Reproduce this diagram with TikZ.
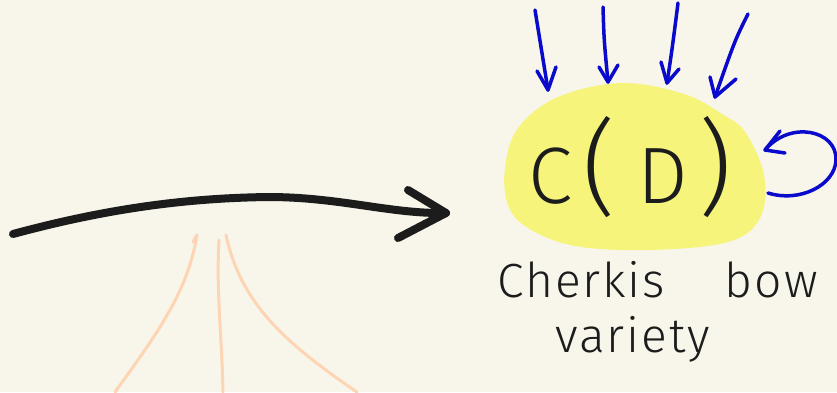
\documentclass[tikz,border=0pt]{standalone}
\usepackage{fontspec}
\newfontfamily\hand[LetterSpace=4]{Fira Sans Light}
\definecolor{paper}{HTML}{F8F6EA}
\definecolor{blob}{HTML}{F6F47A}
\definecolor{ink}{HTML}{1C1C1C}
\definecolor{pen}{HTML}{0A0ACC}
\definecolor{peach}{HTML}{FDD5B5}
\newcommand{\bigparen}[1]{{\fontsize{104}{104}\selectfont #1}}
\tikzset{
  inkline/.style={draw=ink, line width=8pt, line cap=round, line join=round},
  penline/.style={draw=pen, line width=3.5pt, line cap=round, line join=round},
  peachline/.style={draw=peach, line width=3pt, line cap=round, line join=round},
  handtext/.style={text=ink, inner sep=0pt, font=\hand}
}
\begin{document}
\begin{tikzpicture}[x=1pt,y=-1pt]
\fill[paper] (0,0) rectangle (837,392);
\useasboundingbox (0,0) rectangle (837,392);

% yellow blob behind the label
\fill[blob] plot[smooth cycle, tension=0.6] coordinates {
  (505,168) (518,128) (558,97) (622,83) (684,94) (722,114) (745,132)
  (764,175) (760,218) (728,242) (650,250) (575,246) (528,228) (508,205)};
\node[handtext, font=\hand\fontsize{80}{80}\selectfont, anchor=base] (cd) at (630,203)
  {C\hspace{10pt}\bigparen{(}\hspace{22pt}D\hspace{10pt}\bigparen{)}};

\node[handtext, font=\hand\fontsize{48}{48}\selectfont, anchor=base west] (cherkis) at (497,297)
  {Cherkis\hspace{60pt}bow};
\node[handtext, font=\hand\fontsize{48}{48}\selectfont, anchor=base west] (variety) at (555,352)
  {variety};

% peach strands
\coordinate (pl0) at (197,235); \coordinate (pl1) at (115,392);
\coordinate (pm0) at (219,240); \coordinate (pm1) at (223,392);
\coordinate (pr0) at (226,235); \coordinate (pr1) at (357,392);
\path[peachline] (pl0) .. controls (188,290) and (160,330) .. (pl1);
\path[peachline] (193,242) -- (pl0);
\path[peachline] (pm0) .. controls (216,290) and (222,340) .. (pm1);
\path[peachline] (pr0) .. controls (240,300) and (280,340) .. (pr1);

% black arrow into the blob
\coordinate (a0) at (13,234);
\coordinate (a1) at (446,213);
\path[inkline] (a0) .. controls (120,205) and (200,198) .. (268,197)
  .. controls (340,197) and (390,214) .. (a1);
\path[inkline] (408,190) -- (a1) -- (398,238);

% blue arrows from above
\coordinate (b1s) at (535,10);  \coordinate (b1e) at (548,90);
\coordinate (b2s) at (603,7);   \coordinate (b2e) at (608,82);
\coordinate (b3s) at (678,3);   \coordinate (b3e) at (667,83);
\coordinate (b4s) at (748,14);  \coordinate (b4e) at (715,97);
\path[penline] (b1s) -- (b1e);  \path[penline] (537,71) -- (b1e) -- (556,67);
\path[penline] (b2s) .. controls (604,40) .. (b2e);  \path[penline] (599,67) -- (b2e) -- (618,65);
\path[penline] (b3s) .. controls (672,50) .. (b3e);  \path[penline] (661,62) -- (b3e) -- (679,69);
\path[penline] (b4s) .. controls (735,40) .. (b4e);  \path[penline] (710,77) -- (b4e) -- (736,79);

% blue loop on the right
\coordinate (l0) at (768,193);
\coordinate (l1) at (765,150);
\path[penline] (l0) .. controls (800,203) and (835,185) .. (836,160)
  .. controls (837,130) and (790,120) .. (l1);
\path[penline] (780,131) -- (l1) -- (785,153);
\end{tikzpicture}
\end{document}
